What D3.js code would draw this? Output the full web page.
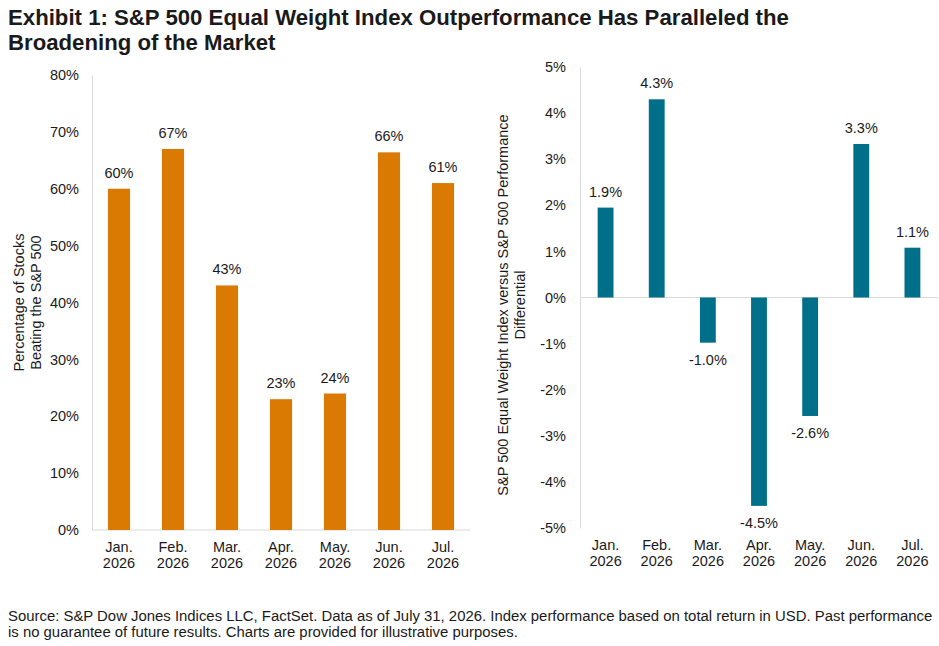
<!DOCTYPE html>
<html>
<head>
<meta charset="utf-8">
<script src="https://cdn.jsdelivr.net/npm/d3@7"></script>
<style>
  body { margin: 0; background: #fff; font-family: Arial, "Liberation Sans", sans-serif; }
  svg text { fill: #1a1a1a; }
</style>
</head>
<body>
<svg id="chart" width="939" height="646"></svg>
<script>
const months = ['Jan.', 'Feb.', 'Mar.', 'Apr.', 'May.', 'Jun.', 'Jul.'];
const year = '2026';
const pctBeating = [60, 67, 43, 23, 24, 66.4, 61];
const pctLabels = ['60%', '67%', '43%', '23%', '24%', '66%', '61%'];
const perfDiff = [1.95, 4.3, -0.98, -4.52, -2.57, 3.33, 1.08];
const diffLabels = ['1.9%', '4.3%', '-1.0%', '-4.5%', '-2.6%', '3.3%', '1.1%'];
const leftTicks = [0, 10, 20, 30, 40, 50, 60, 70, 80];
const rightTicks = [-5, -4, -3, -2, -1, 0, 1, 2, 3, 4, 5];

const svg = d3.select('#chart');

// title
const title = svg.append('text')
    .attr('font-size', 22.2)
    .attr('font-weight', 'bold')
    .attr('fill', '#000');
title.append('tspan').attr('x', 8).attr('y', 25).text('Exhibit 1: S&P 500 Equal Weight Index Outperformance Has Paralleled the');
title.append('tspan').attr('x', 8).attr('y', 50).text('Broadening of the Market');

// footnote
const foot = svg.append('text').attr('font-size', 14.9);
foot.append('tspan').attr('x', 8).attr('y', 621).text('Source: S&P Dow Jones Indices LLC, FactSet. Data as of July 31, 2026. Index performance based on total return in USD. Past performance');
foot.append('tspan').attr('x', 8).attr('y', 637).text('is no guarantee of future results. Charts are provided for illustrative purposes.');

function xAxisLabels(g, x, bottom) {
    months.forEach(m => {
        const t = g.append('text')
            .attr('text-anchor', 'middle')
            .attr('font-size', 14.5);
        t.append('tspan').attr('x', x(m) + x.bandwidth() / 2).attr('y', bottom + 22).text(m);
        t.append('tspan').attr('x', x(m) + x.bandwidth() / 2).attr('y', bottom + 38).text(year);
    });
}

// ---- left chart
{
    const left = 92, right = 470, top = 75, bottom = 530;
    const g = svg.append('g');

    const x = d3.scaleBand().domain(months).range([left, right]).paddingInner(0.59).paddingOuter(0.295);
    const y = d3.scaleLinear().domain([0, 80]).range([bottom, top]);

    const yAxis = g.append('g')
        .attr('transform', `translate(${left},0)`)
        .call(d3.axisLeft(y).tickValues(leftTicks).tickFormat(d => d + '%').tickSize(0).tickPadding(13));
    yAxis.select('.domain').attr('stroke', '#d9d9d9');
    yAxis.selectAll('text').attr('font-size', 14.5).attr('font-family', 'Arial, "Liberation Sans", sans-serif').attr('fill', '#1a1a1a');

    g.append('line')
        .attr('x1', left).attr('x2', right)
        .attr('y1', y(0)).attr('y2', y(0))
        .attr('stroke', '#d9d9d9');

    g.selectAll('.bar')
        .data(pctBeating)
        .enter().append('rect')
        .attr('x', (d, i) => x(months[i]))
        .attr('y', d => y(d))
        .attr('width', x.bandwidth())
        .attr('height', d => y(0) - y(d))
        .attr('fill', '#db7a03');

    g.selectAll('.lbl')
        .data(pctBeating)
        .enter().append('text')
        .attr('x', (d, i) => x(months[i]) + x.bandwidth() / 2)
        .attr('y', d => y(d) - 11)
        .attr('text-anchor', 'middle')
        .attr('font-size', 14.5)
        .text((d, i) => pctLabels[i]);

    xAxisLabels(g, x, bottom);

    const yl = g.append('text')
        .attr('transform', `translate(0,${(top + bottom) / 2}) rotate(-90)`)
        .attr('text-anchor', 'middle')
        .attr('font-size', 14.5);
    yl.append('tspan').attr('x', 0).attr('y', 24).text('Percentage of Stocks');
    yl.append('tspan').attr('x', 0).attr('y', 41).text('Beating the S&P 500');
}

// ---- right chart
{
    const left = 580, right = 938, top = 67, bottom = 528;
    const g = svg.append('g');

    const x = d3.scaleBand().domain(months).range([left, right]).paddingInner(0.69).paddingOuter(0.345);
    const y = d3.scaleLinear().domain([-5, 5]).range([bottom, top]);

    const yAxis = g.append('g')
        .attr('transform', `translate(${left},0)`)
        .call(d3.axisLeft(y).tickValues(rightTicks).tickFormat(d => d + '%').tickSize(0).tickPadding(14));
    yAxis.select('.domain').attr('stroke', '#d9d9d9');
    yAxis.selectAll('text').attr('font-size', 14.5).attr('font-family', 'Arial, "Liberation Sans", sans-serif').attr('fill', '#1a1a1a');

    g.append('line')
        .attr('x1', left).attr('x2', right)
        .attr('y1', y(0)).attr('y2', y(0))
        .attr('stroke', '#d9d9d9');

    g.selectAll('.bar')
        .data(perfDiff)
        .enter().append('rect')
        .attr('x', (d, i) => x(months[i]))
        .attr('y', d => y(Math.max(0, d)))
        .attr('width', x.bandwidth())
        .attr('height', d => Math.abs(y(d) - y(0)))
        .attr('fill', '#006f89');

    g.selectAll('.lbl')
        .data(perfDiff)
        .enter().append('text')
        .attr('x', (d, i) => x(months[i]) + x.bandwidth() / 2)
        .attr('y', d => d >= 0 ? y(d) - 11 : y(d) + 22)
        .attr('text-anchor', 'middle')
        .attr('font-size', 14.5)
        .text((d, i) => diffLabels[i]);

    xAxisLabels(g, x, bottom);

    const yl = g.append('text')
        .attr('transform', `translate(0,305) rotate(-90)`)
        .attr('text-anchor', 'middle')
        .attr('font-size', 14.5);
    yl.append('tspan').attr('x', 0).attr('y', 508).text('S&P 500 Equal Weight Index versus S&P 500 Performance');
    yl.append('tspan').attr('x', 0).attr('y', 525).text('Differential');
}
</script>
</body>
</html>
